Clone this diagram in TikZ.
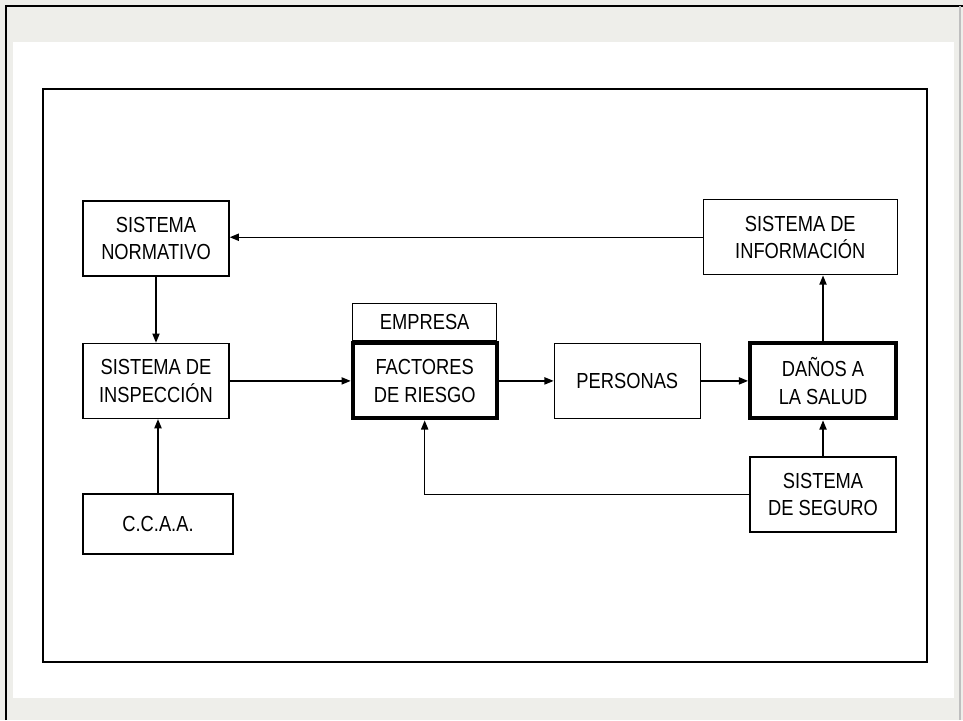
\documentclass[tikz,border=0pt]{standalone}
\usepackage{fontspec}
\setmainfont{Liberation Sans}[FakeStretch=0.84]
\usepackage{tikz}
\usetikzlibrary{arrows.meta, positioning}
\definecolor{fondo}{RGB}{238,238,234}

\begin{document}
\begin{tikzpicture}[
    node distance=1.65cm,
    box/.style={rectangle, draw, line width=1pt, minimum width=3.65cm, minimum height=1.875cm, align=center, inner sep=2pt, font=\fontsize{15.5}{19.4}\selectfont},
    factor/.style={box, line width=2.8pt},
    >={Triangle[length=2.3mm, width=1.8mm]}
]
% Frame
\useasboundingbox (0,0) rectangle (24.075,-18);
\fill[fondo] (0,0) rectangle (24.075,-18);
\fill[white] (0.325,-1.05) rectangle (23.85,-17.45);
\draw[line width=1.5pt] (0.16,-18) -- (0.16,-0.15) -- (24.075,-0.15);
\draw[gray!50, line width=0.8pt] (24.0,-0.15) -- (24.0,-18);
\draw[line width=1.4pt] (1.075,-2.225) rectangle (23.175,-16.55);

% Nodes
\node[box] (norm) at (3.9,-5.9625) {SISTEMA\\NORMATIVO};
\node[box, below=of norm] (insp) {SISTEMA DE\\INSPECCIÓN};
\node[box, minimum width=3.75cm, minimum height=1.5cm, below=1.85cm of insp.south west, anchor=north west] (ccaa) {C.C.A.A.};
\node[factor, minimum width=3.6cm, right=3.025cm of insp] (factores) {FACTORES\\DE RIESGO};
\node[box, minimum width=3.6cm, minimum height=0.925cm, above=0pt of factores] (empresa) {EMPRESA};
\node[box, right=1.375cm of factores] (personas) {PERSONAS};
\node[factor, right=1.175cm of personas] (danos) {DAÑOS A\\LA SALUD};
\node[box, minimum width=4.85cm, above=of danos.north east, anchor=south east] (info) {SISTEMA DE\\INFORMACIÓN};
\node[box, below=0.9cm of danos] (seguro) {SISTEMA\\DE SEGURO};

% Connections
\draw[->, line width=1pt] (info.west) -- (info.west -| norm.east);
\draw[->, line width=1pt] (norm) -- (insp);
\draw[->, line width=1pt] (ccaa) -- (ccaa |- insp.south);
\draw[->, line width=1pt] (insp) -- (factores);
\draw[->, line width=1pt] (factores) -- (personas);
\draw[->, line width=1pt] (personas) -- (danos);
\draw[->, line width=1pt] (danos.north) -- (danos.north |- info.south);
\draw[->, line width=1pt] (seguro) -- (danos);
\draw[->, line width=1pt] (seguro.west) -| (factores.south);

\end{tikzpicture}
\end{document}
